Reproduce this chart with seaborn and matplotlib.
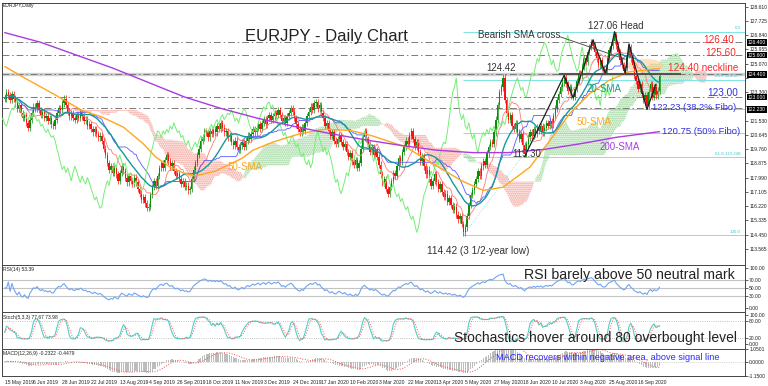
import numpy as np
import pandas as pd
import seaborn as sns
import matplotlib.pyplot as plt
import matplotlib.transforms as mtransforms
from matplotlib.patches import Ellipse

# Daily closes, 15 May 2019 -> late Sep 2020
closes = [
    122.9, 123.3, 123.1, 122.8, 123.2,
    122.9, 122.6, 122.3, 122.5, 122.0, 121.7, 121.9, 121.4, 121.1,
    121.6, 122.0, 122.4, 122.3, 122.6,
    122.2, 121.9, 122.1, 121.7, 121.8, 121.5, 121.7, 121.3, 121.2,
    121.6, 122.0, 122.3, 122.2, 122.6, 122.9, 122.5,
    122.1, 121.8, 122.0, 121.7, 121.6, 121.9, 121.7, 122.0,
    121.8, 121.5, 121.6, 121.2, 121.3, 121.0, 120.8, 121.0, 120.7, 120.5, 120.6, 120.3,
    119.8, 119.4, 118.9, 118.5, 118.7, 118.3,
    118.6, 118.2, 117.8, 118.3, 118.7, 118.4, 118.0, 117.7, 118.1, 117.8, 117.6, 118.0, 117.7,
    117.3, 117.0, 116.6, 116.8, 116.4, 116.1, 116.2,
    116.9, 117.4, 117.8, 117.5, 118.1, 118.6, 118.9, 118.6, 119.1, 119.4,
    119.0, 118.7, 118.9, 118.4, 118.1, 118.3, 117.9, 117.6, 117.8, 117.4, 117.5, 117.2, 117.3,
    117.9, 118.5, 118.9, 119.4, 119.8, 120.3, 120.5, 120.9,
    120.8, 120.5, 120.9, 120.7, 121.0, 120.8, 121.2, 121.0, 121.4, 121.1,
    120.8, 120.9, 120.5, 120.6, 120.2, 120.0, 120.3, 119.9, 119.7, 120.0,
    120.2, 119.9, 120.3, 120.6, 120.4, 120.7, 121.0, 120.8, 121.1, 121.3,
    121.0, 121.4, 121.6, 121.3, 121.7, 121.9, 121.6, 121.8, 122.0,
    121.9, 122.2, 121.9, 121.5, 121.7, 121.4, 121.8, 122.0, 122.3, 122.1, 121.7,
    121.3, 121.0, 120.8, 121.1, 120.9,
    121.4, 121.8, 122.1, 122.4, 122.2, 122.6, 122.7, 122.3, 122.5, 122.0,
    121.7, 121.2, 121.4, 120.9, 120.6, 120.8, 120.3, 120.1, 120.4,
    120.6, 120.2, 119.9, 120.1, 119.6, 119.3, 119.5, 119.0, 118.8, 119.1, 118.6,
    118.9, 119.8, 120.5, 120.9, 120.4, 120.1, 119.6, 119.9, 119.4, 119.7, 119.3,
    118.8, 118.2, 117.7, 117.9, 117.3, 117.0, 117.4, 117.8,
    118.3, 118.1, 118.7, 119.2, 119.0, 119.6, 119.9, 120.3, 120.1, 120.6, 120.9,
    120.4, 119.9, 120.2, 119.6, 119.0, 119.3, 118.7, 118.2, 118.5, 117.9, 117.5,
    117.8, 118.2, 117.7, 117.3, 117.6, 117.1, 116.8, 117.0, 116.5,
    116.7, 116.3, 116.0, 116.2, 115.7, 115.4, 115.6, 115.1, 114.6,
    114.9, 115.6, 116.3, 116.9, 117.2, 117.6,
    117.9, 118.4, 118.1, 118.7, 119.0, 118.8, 119.5, 119.9,
    120.2, 120.1, 120.8, 121.6, 122.5, 123.3, 123.6, 124.2,
    122.8, 122.0, 121.6, 121.9, 121.2, 121.0, 121.4, 120.8, 120.4, 120.7, 120.0, 119.5,
    120.1, 120.5, 120.8, 120.6, 121.0, 120.7, 121.1, 120.9,
    121.2, 120.8, 121.1, 121.4, 121.2, 121.5, 121.3,
    121.8, 122.3, 122.8, 123.2, 123.6, 123.9, 124.2, 123.8, 123.4, 123.6, 123.1, 123.0,
    123.5, 124.0, 124.5, 124.3, 124.9, 125.4, 125.2, 125.8, 126.1, 126.4, 126.2,
    125.8, 125.4, 125.0, 125.3, 124.8, 124.6, 124.7,
    125.4, 125.9, 126.2, 126.5, 126.85,
    126.2, 125.8, 125.3, 125.0, 124.6, 124.8,
    125.6, 126.1,
    125.4, 125.0, 124.3, 124.0, 123.5, 123.8, 123.2, 122.8, 123.1, 122.45,
    123.3, 123.8, 123.0, 123.6, 123.1, 123.4, 124.3,
]
first_open = 123.0

# 50- and 200-day SMA, read at a few bars
sma50_bars = [0, 10, 27, 43, 54, 66, 77, 84, 92, 99, 106, 117, 132, 138, 149, 164,
              178, 192, 204, 223, 238, 254, 266, 277, 292, 303, 314, 325, 336, 347, 364]
sma50_vals = [124.9, 124.25, 123.2, 122.17, 121.76, 121.13, 120.1, 119.27, 118.65, 118.3,
              118.1, 118.4, 119.2, 119.7, 120.2, 120.72, 121.0, 120.93, 120.6, 119.9,
              118.86, 117.8, 117.2, 117.4, 118.65, 120.3, 121.96, 123.2, 124.04, 124.56, 124.77]
sma200_bars = [0, 20, 40, 60, 80, 100, 120, 140, 160, 180, 200, 220, 240, 260, 280, 300, 320, 340, 364]
sma200_vals = [127.0, 126.4, 125.6, 124.8, 123.9, 123.0, 122.3, 121.7, 121.2, 120.75,
               120.35, 120.0, 119.7, 119.55, 119.55, 119.75, 120.1, 120.5, 120.85]

date_labels = ['15 May 2019', '6 Jun 2019', '28 Jun 2019', '22 Jul 2019', '13 Aug 2019',
               '4 Sep 2019', '26 Sep 2019', '18 Oct 2019', '11 Nov 2019', '3 Dec 2019',
               '24 Dec 2019', '17 Jan 2020', '10 Feb 2020', '3 Mar 2020', '22 Mar 2020',
               '13 Apr 2020', '5 May 2020', '27 May 2020', '18 Jun 2020', '10 Jul 2020',
               '3 Aug 2020', '25 Aug 2020', '16 Sep 2020']
price_ticks = [113.565, 114.450, 115.335, 116.220, 117.105, 117.990, 118.875, 119.760,
               120.645, 121.530, 122.415, 123.300, 124.185, 125.070, 125.955, 126.840,
               127.725, 128.610]
hidden_ticks = [122.415, 124.185]   # covered by the level boxes
marked_levels = [126.400, 125.600, 124.400, 123.000, 122.230]

fib_low, fib_high = 114.42, 127.06
fib_pcts = [0.0, 23.6, 38.2, 50.0, 61.8, 100.0]
fib_labelled = [0.0, 23.6, 61.8, 100.0]   # the other two sit under the annotations

# ---- derived series ----
n = len(closes)
idx = np.arange(n)
close = pd.Series(closes)
opens = close.shift(1).fillna(first_open)
wick = 0.2
highs = pd.Series(np.maximum(opens, close) + wick)
lows = pd.Series(np.minimum(opens, close) - wick)

sma20 = close.rolling(20, min_periods=1).mean()
tenkan = (highs.rolling(9, min_periods=1).max() + lows.rolling(9, min_periods=1).min()) / 2
kijun = (highs.rolling(26, min_periods=1).max() + lows.rolling(26, min_periods=1).min()) / 2
span_a = ((tenkan + kijun) / 2).values
span_b = ((highs.rolling(52, min_periods=1).max() + lows.rolling(52, min_periods=1).min()) / 2).values
cloud_x = idx + 26

delta = close.diff().fillna(0)
gain = delta.clip(lower=0).ewm(alpha=1/14, adjust=False).mean()
loss = (-delta.clip(upper=0)).ewm(alpha=1/14, adjust=False).mean()
rsi = 100 - 100 / (1 + gain / loss.replace(0, np.nan))
rsi = rsi.fillna(50)

ll = lows.rolling(5, min_periods=1).min()
hh = highs.rolling(5, min_periods=1).max()
stoch_k = (close - ll).rolling(3, min_periods=1).sum() / (hh - ll).rolling(3, min_periods=1).sum() * 100
stoch_d = stoch_k.rolling(3, min_periods=1).mean()

macd = close.ewm(span=12, adjust=False).mean() - close.ewm(span=26, adjust=False).mean()
macd_sig = macd.rolling(9, min_periods=1).mean()

# ---- figure ----
sns.set_style("white")
plt.rcParams['font.family'] = ['Liberation Sans', 'DejaVu Sans']
plt.rcParams['hatch.linewidth'] = 0.9

W, H = 768, 386
fig = plt.figure(figsize=(7.68, 3.86), dpi=100)

def box(top, bottom):
    return [2 / W, 1 - bottom / H, 743 / W, (bottom - top) / H]

def ftext(x, y, s, **kw):
    fig.text(x / W, 1 - y / H, s, va='center', **kw)

ax = fig.add_axes(box(3, 265))
ax_rsi = fig.add_axes(box(265, 312))
ax_st = fig.add_axes(box(312, 349))
ax_m = fig.add_axes(box(349, 375.5))

xlim = (-1.5, 411.5)
for a in (ax, ax_rsi, ax_st, ax_m):
    a.set_xlim(*xlim)
    a.yaxis.tick_right()
    a.tick_params(axis='y', labelsize=3.6, length=2, pad=1, width=0.5, colors='#222222')
    a.tick_params(axis='x', length=0)
    a.set_xticks([])
    for s in a.spines.values():
        s.set_color('#444444')
        s.set_linewidth(0.7)

# ---- main panel ----
ax.set_ylim(112.57, 128.84)
ax.set_yticks(price_ticks)
ax.set_yticklabels(['' if t in hidden_ticks else f'{t:.3f}' for t in price_ticks])

# ichimoku cloud
ax.fill_between(cloud_x, span_a, span_b, where=span_b >= span_a, interpolate=True,
                facecolor='#fff3f1', edgecolor='#f09890', hatch='........', linewidth=0, zorder=1)
ax.fill_between(cloud_x, span_a, span_b, where=span_a > span_b, interpolate=True,
                facecolor='#f2fbf2', edgecolor='#8fd08f', hatch='........', linewidth=0, zorder=1)

# horizontal levels
ax.axhline(124.45, color='#cfcfcf', linewidth=2.4, zorder=1)
for lv in [126.40, 125.60, 124.40, 123.00, 122.35]:
    ax.axhline(lv, color='#7a7a7a', linewidth=0.7, linestyle=(0, (7, 3, 1.5, 3)), zorder=1)

# fibonacci
fib_col = '#7fe3e3'
for p in fib_pcts:
    lv = fib_high - (fib_high - fib_low) * p / 100
    ax.hlines(lv, 255, xlim[1], color=fib_col, linewidth=0.7, zorder=2)
    if p in fib_labelled:
        lab = f'{p:.1f}' if p in (0.0, 100.0) else f'{p:.1f} {lv:.3f}'
        ax.text(409, lv + 0.08, lab, fontsize=3.2, color='#40c8c8', ha='right', va='bottom', zorder=6)
ax.plot([255, 339], [fib_low, fib_high], color=fib_col, linewidth=0.6, linestyle=':', zorder=2)

# highlighted SMA cross
ax.add_patch(Ellipse((356, 124.95), 20, 0.85, facecolor='#ffc98a', alpha=0.55,
                     edgecolor='none', zorder=2))

# candles
bull, bear = '#0a8f0a', '#ff1010'
cols = np.where(close.values >= opens.values, bull, bear)
ax.vlines(idx, lows, highs, colors=cols, linewidth=0.5, zorder=3)
ax.bar(idx, np.clip(np.abs(close - opens), 0.03, None), bottom=np.minimum(opens, close),
       width=0.75, color=cols, linewidth=0, zorder=3)

# ichimoku lines
sns.lineplot(x=idx, y=tenkan, ax=ax, color='#ff7a7a', linewidth=0.6, zorder=4)
sns.lineplot(x=idx, y=kijun, ax=ax, color='#5a5aff', linewidth=0.6, zorder=4)
sns.lineplot(x=idx - 26, y=close, ax=ax, color='#74ee74', linewidth=0.7, zorder=4)

# moving averages
sns.lineplot(x=idx, y=sma20, ax=ax, color='#17999a', linewidth=1.0, zorder=5)
sns.lineplot(x=sma50_bars, y=sma50_vals, ax=ax, color='#ffa620', linewidth=1.0, zorder=5)
sns.lineplot(x=sma200_bars, y=sma200_vals, ax=ax, color='#a93ce0', linewidth=1.0, zorder=5)

# pattern drawing
swing_bars = [289, 311, 316, 327, 334, 339, 345, 347, 357, 362]
swing_vals = [119.30, 124.35, 122.95, 126.55, 124.45, 127.06, 124.45, 126.30, 122.23, 123.80]
ax.plot(swing_bars, swing_vals, color='#1e1e1e', linewidth=0.9, zorder=6)
ax.hlines(124.40, 308, 376, color='#4a4a4a', linewidth=1.3, zorder=6)
ax.plot([308.5, 345], [126.75, 125.35], color='#555555', linewidth=0.7, zorder=6)

# boxes on the price scale
tr = mtransforms.blended_transform_factory(ax.transAxes, ax.transData)
for lv in marked_levels:
    ax.text(1.004, lv, f'{lv:.3f}', transform=tr, fontsize=3.6, color='white', va='center',
            ha='left', bbox=dict(boxstyle='square,pad=0.15', facecolor='black', edgecolor='none'),
            zorder=10, clip_on=False)

# ---- RSI ----
ax_rsi.set_ylim(-10, 107.5)
for lv in [30, 50, 70]:
    ax_rsi.axhline(lv, color='#c4c4c4', linewidth=0.8)
sns.lineplot(x=idx, y=rsi, ax=ax_rsi, color='#6fa6f5', linewidth=0.8)
ax_rsi.set_yticks([0, 30, 50, 70, 100])
ax_rsi.set_yticklabels(['0.00', '30.00', '50.00', '70.00', '100.00'])

# ---- Stochastic ----
ax_st.set_ylim(-17.2, 110.3)
for lv in [20, 80]:
    ax_st.axhline(lv, color='#b0b0b0', linewidth=0.6, linestyle=':')
sns.lineplot(x=idx, y=stoch_k, ax=ax_st, color='#4fd0c8', linewidth=0.8)
sns.lineplot(x=idx, y=stoch_d, ax=ax_st, color='#ff5a5a', linewidth=0.7, linestyle=':')
ax_st.set_yticks([0, 20, 80, 100])
ax_st.set_yticklabels(['0.00', '20.00', '80.00', '100.00'])

# ---- MACD ----
ax_m.set_ylim(-1.15, 1.0501)
ax_m.axhline(0, color='#b0b0b0', linewidth=0.5, linestyle=':')
ax_m.bar(idx, macd, width=0.6, color='#bdbdbd', linewidth=0)
sns.lineplot(x=idx, y=macd_sig, ax=ax_m, color='#ff4a4a', linewidth=0.7, linestyle=':')
ax_m.set_yticks([-1.15, 0, 1.0501])
ax_m.set_yticklabels(['-1.1500', '0.0000', '1.0501'])

ax_m.set_xticks(np.arange(len(date_labels)) * 16)
ax_m.set_xticklabels(date_labels, fontsize=3.6, ha='left')
ax_m.tick_params(axis='x', length=2, width=0.5, pad=1.5, colors='#222222')

for a in (ax, ax_rsi, ax_st, ax_m):
    a.set_xlabel('')
    a.set_ylabel('')

# ---- texts ----
ftext(3, 6, 'EURJPY,Daily', fontsize=3.6, color='#222222')
ftext(3, 270, 'RSI(14) 53.39', fontsize=3.6, color='#222222')
ftext(3, 317, 'Stoch(5,3,3) 77.67 73.98', fontsize=3.6, color='#222222')
ftext(3, 353, 'MACD(12,26,9) -0.2322 -0.4479', fontsize=3.6, color='#222222')

ftext(245, 36, 'EURJPY - Daily Chart', fontsize=12, color='#222222')
ftext(588, 26, '127.06 Head', fontsize=7, color='#333333')
ftext(478, 35, 'Bearish SMA cross', fontsize=7, color='#333333')
ftext(486, 68, '124.42', fontsize=7, color='#333333')
ftext(512, 154, '119.30', fontsize=7, color='#333333')
ftext(427, 251, '114.42 (3 1/2-year low)', fontsize=7.2, color='#333333')
ftext(703, 40, '126.40', fontsize=7.2, color='#ff2a2a')
ftext(705, 53, '125.60', fontsize=7.2, color='#ff2a2a')
ftext(668, 68, '124.40 neckline', fontsize=7.2, color='#ff2a2a')
ftext(707, 93, '123.00', fontsize=7.2, color='#3030d8')
ftext(652, 107, '122.23 (38.2% Fibo)', fontsize=6.7, color='#3030d8')
ftext(662, 131, '120.75 (50% Fibo)', fontsize=6.8, color='#3030d8')
ftext(587, 89, '20-SMA', fontsize=7, color='#17999a')
ftext(577, 122, '50-SMA', fontsize=7, color='#ffa620')
ftext(228, 167, '50-SMA', fontsize=7, color='#ffa620')
ftext(600, 147, '200-SMA', fontsize=7, color='#a93ce0')

ftext(735, 275, 'RSI barely above 50 neutral mark', fontsize=10.2, color='#222222', ha='right')
ftext(737, 338, 'Stochastics hover around 80 overbought level', fontsize=10, color='#222222', ha='right')
ftext(720, 358, 'MACD recovers within negative area, above signal line', fontsize=6.6,
      color='#2a2aff', ha='right')

fig.savefig('out.png', dpi=100, facecolor='white')
